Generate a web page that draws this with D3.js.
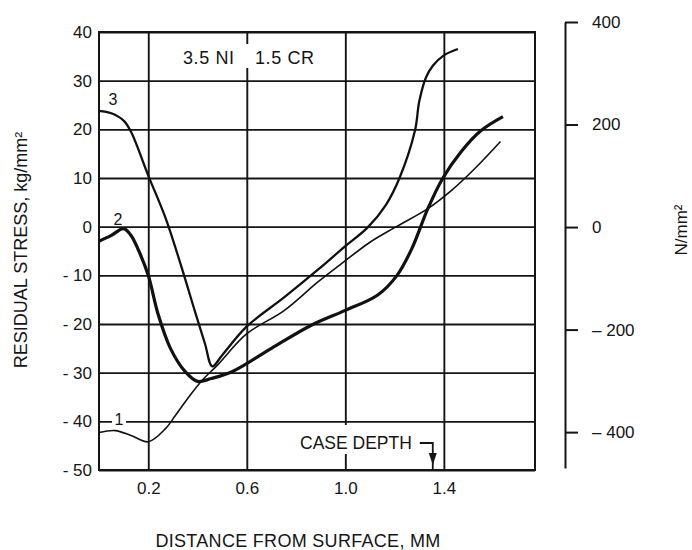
<!DOCTYPE html>
<html>
<head>
<meta charset="utf-8">
<script src="https://cdn.jsdelivr.net/npm/d3@7"></script>
<style>
  body { margin: 0; background: #fff; }
  text { font-family: 'Liberation Sans', Arial, sans-serif; fill: #151515; }
</style>
</head>
<body>
<script>
const WIDTH = 692
const HEIGHT = 550

// chart values
const X_TICKS = [0.2, 0.6, 1.0, 1.4]
const Y_TICKS = [40, 30, 20, 10, 0, -10, -20, -30, -40, -50]
const Y_TICK_LABELS = ['40', '30', '20', '10', '0', '- 10', '- 20', '- 30', '- 40', '- 50']
const N_TICKS = [400, 200, 0, -200, -400]
const N_TICK_LABELS = ['400', '200', '0', '\u2013 200', '\u2013 400']
const CURVE_NAMES = ['1', '2', '3']

// distance (mm), residual stress (kg/mm2)
const CURVE_1 = [
    [0, -42.3], [0.066, -41.9], [0.13, -42.9], [0.2, -44.2], [0.27, -41.5],
    [0.31, -38.8], [0.36, -35.3], [0.42, -31.5], [0.48, -28.5], [0.6, -22],
    [0.75, -17.3], [0.89, -11.3], [1.0, -7], [1.1, -3.2], [1.2, -0.2],
    [1.335, 3.7], [1.43, 7.4], [1.525, 11.9], [1.63, 17.5]
]
const CURVE_2 = [
    [0, -3], [0.05, -1.8], [0.1, -0.4], [0.13, -1.8], [0.16, -4.8],
    [0.2, -10], [0.24, -18], [0.29, -25], [0.35, -29.8], [0.4, -31.8],
    [0.455, -31.2], [0.54, -29.8], [0.7, -25], [0.86, -20.3], [1.0, -17.2],
    [1.13, -14.1], [1.21, -10], [1.27, -4.5], [1.335, 3.7], [1.395, 9.9],
    [1.47, 15.4], [1.55, 19.7], [1.64, 22.6]
]
const CURVE_3 = [
    [0, 23.8], [0.05, 23.3], [0.1, 21.8], [0.13, 19.5], [0.2, 10.5],
    [0.27, 1.8], [0.33, -7.5], [0.39, -17.5], [0.43, -24], [0.46, -28.7],
    [0.5, -26.4], [0.6, -20.5], [0.75, -14.6], [0.89, -8.8], [1.0, -4],
    [1.09, -0.2], [1.165, 4.5], [1.22, 10], [1.283, 19.8], [1.30, 25.7],
    [1.327, 30.6], [1.356, 33.1], [1.40, 35.2], [1.457, 36.5]
]
const CASE_DEPTH = 1.355

// layout
const LEFT = 99
const RIGHT = 535
const TOP = 32
const BOTTOM = 470
const N_AXIS_X = 565

const svg = d3.select('body')
    .append('svg')
    .attr('width', WIDTH)
    .attr('height', HEIGHT)

const xScale = d3.scaleLinear()
    .domain([0, 1.77])
    .range([LEFT, RIGHT])

const yScale = d3.scaleLinear()
    .domain([-50, 40])
    .range([BOTTOM, TOP])

const nScale = d3.scaleLinear()
    .domain([-470, 400])
    .range([468, 22])

// grid
const gridY = svg.append('g')
    .attr('transform', `translate(${LEFT}, 0)`)
    .call(d3.axisLeft(yScale).tickValues(Y_TICKS).tickSize(-(RIGHT - LEFT)).tickFormat(''))
gridY.select('.domain').remove()

const gridX = svg.append('g')
    .attr('transform', `translate(0, ${BOTTOM})`)
    .call(d3.axisBottom(xScale).tickValues(X_TICKS).tickSize(-(BOTTOM - TOP)).tickFormat(''))
gridX.select('.domain').remove()

svg.selectAll('.tick line')
    .attr('stroke', '#151515')
    .attr('stroke-width', 1.9)

svg.append('rect')
    .attr('x', LEFT)
    .attr('y', TOP)
    .attr('width', RIGHT - LEFT)
    .attr('height', BOTTOM - TOP)
    .attr('fill', 'none')
    .attr('stroke', '#151515')
    .attr('stroke-width', 2)

// left labels
const yAxis = svg.append('g')
    .attr('transform', `translate(${LEFT}, 0)`)
    .call(d3.axisLeft(yScale).tickValues(Y_TICKS).tickSize(0).tickPadding(7)
        .tickFormat((d, i) => Y_TICK_LABELS[i]))
yAxis.select('.domain').remove()
yAxis.selectAll('text')
    .attr('font-size', 17)
    .attr('font-family', null)

// bottom labels
const xAxis = svg.append('g')
    .attr('transform', `translate(0, ${BOTTOM})`)
    .call(d3.axisBottom(xScale).tickValues(X_TICKS).tickSize(0).tickPadding(12)
        .tickFormat(d3.format('.1f')))
xAxis.select('.domain').remove()
xAxis.selectAll('text')
    .attr('font-size', 17)
    .attr('font-family', null)

// right axis N/mm2
const nAxis = svg.append('g')
    .attr('transform', `translate(${N_AXIS_X}, 0)`)
    .call(d3.axisRight(nScale).tickValues(N_TICKS).tickSize(13).tickSizeOuter(0).tickPadding(14)
        .tickFormat((d, i) => N_TICK_LABELS[i]))
nAxis.select('.domain')
    .attr('stroke', '#151515')
    .attr('stroke-width', 2)
nAxis.selectAll('.tick line')
    .attr('stroke', '#151515')
    .attr('stroke-width', 2)
nAxis.selectAll('text')
    .attr('font-size', 17)
    .attr('font-family', null)

// label backgrounds that cut the grid
svg.append('rect')
    .attr('x', 180).attr('y', 44).attr('width', 136).attr('height', 24)
    .attr('fill', '#fff')
svg.append('text')
    .attr('x', 183)
    .attr('y', 64)
    .attr('font-size', 18)
    .attr('letter-spacing', 0.6)
    .text('3.5 NI')
svg.append('text')
    .attr('x', 255)
    .attr('y', 64)
    .attr('font-size', 18)
    .attr('letter-spacing', 0.6)
    .text('1.5 CR')

svg.append('rect')
    .attr('x', 298).attr('y', 425).attr('width', 118).attr('height', 29)
    .attr('fill', '#fff')
svg.append('text')
    .attr('x', 300)
    .attr('y', 449)
    .attr('font-size', 17.5)
    .text('CASE DEPTH')

// case depth marker
const cx = xScale(CASE_DEPTH)
svg.append('path')
    .attr('d', `M${cx - 13},443 H${cx} V${BOTTOM}`)
    .attr('fill', 'none')
    .attr('stroke', '#151515')
    .attr('stroke-width', 1.8)
svg.append('path')
    .attr('d', `M${cx - 4},453 L${cx + 4},453 L${cx},465 Z`)
    .attr('fill', '#151515')

// curves
const line = d3.line()
    .x(d => xScale(d[0]))
    .y(d => yScale(d[1]))
    .curve(d3.curveCatmullRom.alpha(0.5))

const CURVES = [CURVE_1, CURVE_2, CURVE_3]
const WIDTHS = [1.6, 3.2, 2.3]

svg.append('g')
    .selectAll('path')
    .data(CURVES)
    .enter()
    .append('path')
    .attr('d', d => line(d))
    .attr('fill', 'none')
    .attr('stroke', '#111')
    .attr('stroke-width', (d, i) => WIDTHS[i])
    .attr('stroke-linejoin', 'round')

// curve numbers
svg.append('rect')
    .attr('x', 112).attr('y', 411).attr('width', 14).attr('height', 16)
    .attr('fill', '#fff')
const NUM_POS = [[119, 425], [118, 225], [113, 105]]
svg.append('g')
    .selectAll('text')
    .data(CURVE_NAMES)
    .enter()
    .append('text')
    .attr('x', (d, i) => NUM_POS[i][0])
    .attr('y', (d, i) => NUM_POS[i][1])
    .attr('text-anchor', 'middle')
    .attr('font-size', 16)
    .text(d => d)

// titles
svg.append('text')
    .attr('x', 298)
    .attr('y', 547)
    .attr('text-anchor', 'middle')
    .attr('font-size', 18)
    .attr('letter-spacing', 0.3)
    .text('DISTANCE FROM SURFACE, MM')

svg.append('text')
    .attr('transform', 'translate(27, 250) rotate(-90)')
    .attr('text-anchor', 'middle')
    .attr('font-size', 18)
    .text('RESIDUAL STRESS, kg/mm\u00b2')

svg.append('text')
    .attr('transform', 'translate(687, 230) rotate(-90)')
    .attr('text-anchor', 'middle')
    .attr('font-size', 17)
    .text('N/mm\u00b2')
</script>
</body>
</html>
